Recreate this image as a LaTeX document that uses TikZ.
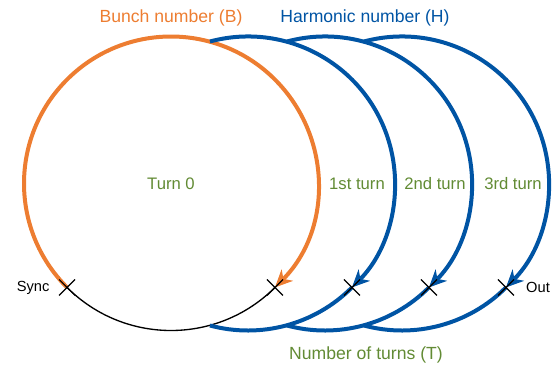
\documentclass[tikz,border=0pt]{standalone}
\usepackage{fontspec}
\setmainfont{Liberation Sans}
\usetikzlibrary{arrows.meta,positioning}
\definecolor{orng}{RGB}{237,125,49}
\definecolor{blu}{RGB}{0,84,164}
\definecolor{grn}{RGB}{98,139,52}
\newcommand{\crossmark}[1]{\draw[black,line width=0.9pt] (#1) +(-8,-8) -- +(8,8) (#1) +(-8,8) -- +(8,-8);}

\begin{document}
\begin{tikzpicture}[x=0.75pt,y=0.75pt,>={Stealth[length=13pt,width=12pt,inset=4pt]},node distance=58.5pt]
  \tikzstyle{turn}=[line width=3pt]
  \tikzstyle{lbl}=[text=grn,font=\fontsize{12.5}{15}\selectfont,inner sep=0pt]
  \tikzstyle{title}=[font=\fontsize{13.2}{16}\selectfont,inner sep=0pt]
  \tikzstyle{side}=[font=\fontsize{11}{13}\selectfont,inner sep=0pt]

  \useasboundingbox (0,0) rectangle (555,365);
  \coordinate (c0) at (171,181.5);
  \coordinate (c1) at (248,181.5);
  \coordinate (c2) at (325,181.5);
  \coordinate (c3) at (402,181.5);
  \path (c0) ++(225:147) coordinate (sync)
        (c0) ++(-45:147) coordinate (x0)
        (c1) ++(-45:147) coordinate (x1)
        (c2) ++(-45:147) coordinate (x2)
        (c3) ++(-45:147) coordinate (out);

  % turn 0
  \draw[black,line width=1pt] (sync) arc[start angle=225,end angle=315,radius=147];
  \draw[orng,turn,->] (sync) arc[start angle=225,end angle=-45,radius=147];

  % following turns
  \draw[blu,turn] (x1) arc[start angle=-45,end angle=-105,radius=147];
  \draw[blu,turn] (x2) arc[start angle=-45,end angle=-105,radius=147];
  \draw[blu,turn] (out) arc[start angle=-45,end angle=-105,radius=147];
  \draw[blu,turn,->] (c1) ++(105:147) arc[start angle=105,end angle=-45,radius=147];
  \draw[blu,turn,->] (c2) ++(105:147) arc[start angle=105,end angle=-45,radius=147];
  \draw[blu,turn,->] (c3) ++(105:147) arc[start angle=105,end angle=-45,radius=147];

  \crossmark{sync}
  \crossmark{x0}
  \crossmark{x1}
  \crossmark{x2}
  \crossmark{out}

  \node[lbl] (t0) at (c0)          {Turn 0};
  \node[lbl] (t1) at (357,181.5)   {1st turn};
  \node[lbl] (t2) [right of=t1]    {2nd turn};
  \node[lbl] (t3) [right of=t2]    {3rd turn};

  \node[side] (synclbl) [left=13pt of sync]  {Sync};
  \node[side] (outlbl)  [right=15pt of out]  {Out};

  \node[title,text=orng] (bunch) at (171,347) {Bunch number (B)};
  \node[title,text=blu]  (harm)  at (365,347) {Harmonic number (H)};
  \node[title,text=grn]  (turns) at (366,10)  {Number of turns (T)};
\end{tikzpicture}
\end{document}
